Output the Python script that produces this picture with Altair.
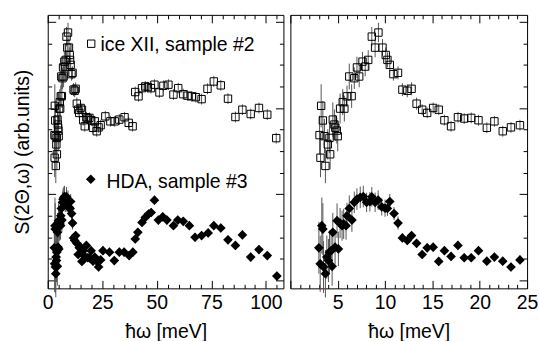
import altair as alt
import pandas as pd

FONT = "Liberation Sans"
FS = 19.5

# ---------------- data ----------------
# ice XII, sample #2 (low-energy part, shown in both panels)
ICE_X = [3.08, 3.18, 3.25, 3.43, 3.60, 3.70, 3.95, 4.13, 4.20, 4.48,
         4.65, 4.75, 4.90, 5.00, 5.25, 5.53, 5.70, 5.98, 6.22, 6.47,
         6.75, 7.03, 7.27, 7.62, 7.90, 8.22, 8.60, 8.95, 9.30, 9.73,
         10.07, 10.25, 10.50, 10.88, 11.37, 11.83, 12.35, 12.80, 13.33, 13.92,
         14.45, 15.08, 15.67, 16.27, 16.97, 17.70, 18.36, 19.10, 19.87, 20.75,
         21.55, 22.43, 23.30, 24.25]
ICE_Y = [6.74, 5.69, 8.10, 7.42, 6.69, 5.31, 6.31, 6.61, 5.85, 7.46,
         7.23, 7.08, 6.95, 6.69, 7.97, 8.27, 7.97, 8.54, 9.46, 8.55,
         9.38, 9.88, 9.46, 10.15, 9.92, 10.23, 11.31, 10.80, 11.50, 10.80,
         10.46, 10.23, 10.00, 9.57, 9.63, 8.85, 8.80, 8.89, 8.20, 7.92,
         7.77, 8.00, 7.92, 7.43, 7.15, 7.57, 7.51, 7.54, 7.43, 7.08,
         7.38, 6.92, 7.10, 7.20]
ICE_E = [0.9, 0.9, 1.0, 0.9, 0.8, 0.8, 0.7, 0.7, 0.7, 0.8,
         0.7, 0.6, 0.6, 0.7, 0.7, 0.6, 0.6, 0.5, 0.6, 0.55,
         0.5, 0.5, 0.5, 0.45, 0.45, 0.45, 0.45, 0.45, 0.45, 0.4,
         0.35, 0.35, 0.3, 0.3, 0.3, 0.3, 0.3, 0.3, 0.28, 0.25,
         0.25, 0.25, 0.25, 0.25, 0.25, 0.25, 0.25, 0.25, 0.25, 0.25,
         0.25, 0.25, 0.25, 0.25]
# ice XII, high-energy part (left panel only)
ICE_HI_X = [26.4, 28.7, 30.7, 32.8, 35.2, 37.1, 38.9, 40.1, 41.6, 43.2,
            44.7, 45.9, 47.3, 48.9, 51.2, 53.0, 55.3, 57.6, 59.8, 62.1,
            64.1, 66.0, 67.9, 70.5, 73.2, 76.1, 79.3, 82.6, 86.0, 89.2,
            93.0, 96.8, 100.6, 104.7]
ICE_HI_Y = [7.61, 7.38, 7.38, 7.46, 7.57, 7.31, 7.15, 8.74, 8.54, 8.92,
            9.00, 8.97, 8.92, 9.08, 8.72, 9.03, 9.08, 8.62, 8.92, 8.64,
            8.57, 8.54, 8.50, 8.41, 8.89, 9.23, 9.05, 8.43, 7.58, 7.92,
            7.72, 8.00, 7.69, 6.60]
ICE_HI_E = [0.25] * len(ICE_HI_X)

# HDA, sample #3 (low-energy part, shown in both panels)
HDA_X = [3.01, 3.15, 3.32, 3.43, 3.50, 3.70, 3.85, 4.02, 4.13, 4.30,
         4.41, 4.48, 4.72, 4.93, 5.07, 5.25, 5.46, 5.63, 5.88, 5.98,
         6.22, 6.50, 6.75, 7.03, 7.38, 7.70, 8.05, 8.40, 8.60, 8.95,
         9.27, 9.65, 10.00, 10.25, 10.50, 10.95, 11.37, 11.83, 12.35, 12.80,
         13.33, 13.92, 14.45, 15.08, 15.67, 16.27, 16.97, 17.70, 18.36, 19.10,
         19.87, 20.75, 21.55, 22.43, 23.30, 24.25]
HDA_Y = [1.51, 0.77, 2.54, 2.38, 0.62, 0.31, 1.08, 0.92, 1.31, 1.38,
         0.65, 2.23, 1.54, 2.77, 1.46, 2.66, 2.54, 2.62, 2.54, 3.00,
         3.34, 2.80, 3.62, 3.77, 3.85, 3.89, 3.62, 3.65, 3.88, 3.62,
         3.72, 3.41, 3.35, 3.34, 3.66, 3.10, 2.66, 1.97, 1.85, 2.08,
         1.72, 1.20, 1.51, 1.54, 0.88, 1.38, 1.11, 1.62, 1.05, 1.05,
         1.38, 0.89, 1.08, 0.89, 0.62, 0.95]
HDA_E = [1.2, 1.3, 1.3, 1.2, 1.2, 1.1, 1.0, 1.0, 1.0, 0.9,
         0.9, 0.9, 0.8, 0.8, 0.8, 0.7, 0.7, 0.7, 0.65, 0.6,
         0.6, 0.55, 0.5, 0.5, 0.5, 0.5, 0.45, 0.45, 0.45, 0.45,
         0.45, 0.4, 0.4, 0.35, 0.35, 0.3, 0.3, 0.2, 0.2, 0.2,
         0.2, 0.2, 0.2, 0.2, 0.2, 0.2, 0.2, 0.2, 0.2, 0.2,
         0.2, 0.2, 0.2, 0.2, 0.2, 0.2]
# HDA, high-energy part (left panel only)
HDA_HI_X = [25.3, 28.3, 30.5, 32.8, 35.0, 37.3, 39.0, 40.1, 41.3, 43.2,
            44.7, 46.2, 47.4, 48.9, 50.7, 52.7, 54.6, 57.6, 59.6, 62.1,
            64.9, 67.5, 70.5, 73.5, 76.1, 79.3, 82.6, 86.0, 89.2, 93.0,
            96.8, 100.6, 105.0]
HDA_HI_Y = [1.38, 1.31, 0.92, 1.31, 1.31, 1.15, 1.31, 1.92, 2.23, 2.69,
            2.92, 3.08, 3.15, 3.72, 2.80, 2.95, 2.80, 2.54, 2.80, 2.74,
            2.54, 2.00, 2.08, 2.20, 2.54, 2.43, 1.88, 1.62, 2.11, 1.08,
            1.43, 1.15, 0.20]
HDA_HI_E = [0.2] * len(HDA_HI_X)

LEGEND_LABELS = ["ice XII, sample #2", "HDA, sample #3"]
X_TITLE = "ħω [meV]"
Y_TITLE = "S(2Θ,ω) (arb.units)"

LEFT_TICKS = list(range(0, 110, 5))
RIGHT_TICKS = list(range(0, 26, 1))
Y_TICKS = list(range(0, 13))


def frame(xs, ys, es):
    return pd.DataFrame({
        "x": xs, "y": ys,
        "lo": [y - e for y, e in zip(ys, es)],
        "hi": [y + e for y, e in zip(ys, es)],
    })


ice_low = frame(ICE_X, ICE_Y, ICE_E)
hda_low = frame(HDA_X, HDA_Y, HDA_E)
ice_all = pd.concat([ice_low, frame(ICE_HI_X, ICE_HI_Y, ICE_HI_E)], ignore_index=True)
hda_all = pd.concat([hda_low, frame(HDA_HI_X, HDA_HI_Y, HDA_HI_E)], ignore_index=True)

YSCALE = alt.Scale(domain=[-0.37, 12.32], nice=False, zero=False)

COMMON = dict(domain=False, grid=False, tickColor="black", tickWidth=1,
              labelFont=FONT, labelFontSize=FS, labelColor="black",
              titleFont=FONT, titleFontSize=FS, titleFontWeight="normal",
              titleColor="black", labelFlush=False, labelOverlap=False)


def xaxis(orient, ticks, major, labelexpr=None, title=None):
    size = {"condition": {"test": f"datum.value % {major} === 0", "value": -8}, "value": -4}
    if labelexpr is not None:
        return alt.Axis(orient=orient, values=ticks, tickSize=size, labels=True,
                        labelExpr=labelexpr, labelPadding=13.5, title=title,
                        titlePadding=6, **COMMON)
    return alt.Axis(orient=orient, values=ticks, tickSize=size, labels=False,
                    title=None, **COMMON)


def yaxis(orient, title=None):
    size = {"condition": {"test": "datum.value % 4 === 0", "value": -8}, "value": -4}
    if title is not None:
        return alt.Axis(orient=orient, values=Y_TICKS, tickSize=size, labels=False,
                        title=title, titlePadding=15, **COMMON)
    return alt.Axis(orient=orient, values=Y_TICKS, tickSize=size, labels=False,
                    title=None, **COMMON)


def panel(ice, hda, xdomain, width, ticks, major, labelexpr, left_axis, legend):
    xs = alt.Scale(domain=xdomain, nice=False, zero=False)
    ice_err = alt.Chart(ice).mark_rule(color="#555555", strokeWidth=1).encode(
        x=alt.X("x:Q", scale=xs, axis=xaxis("bottom", ticks, major, labelexpr, X_TITLE)),
        y=alt.Y("lo:Q", scale=YSCALE,
                axis=yaxis("left", Y_TITLE) if left_axis else None),
        y2="hi:Q",
    )
    ice_pts = alt.Chart(ice).mark_point(shape="square", size=55, filled=False,
                                        color="black", strokeWidth=1, opacity=1).encode(
        x=alt.X("x:Q", scale=xs, axis=xaxis("top", ticks, major)),
        y=alt.Y("y:Q", scale=YSCALE, axis=yaxis("right")),
    )
    hda_err = alt.Chart(hda).mark_rule(color="#555555", strokeWidth=1).encode(
        x=alt.X("x:Q", scale=xs, axis=None),
        y=alt.Y("lo:Q", scale=YSCALE, axis=None),
        y2="hi:Q",
    )
    hda_pts = alt.Chart(hda).mark_point(shape="diamond", size=95, filled=True,
                                        color="black", opacity=1).encode(
        x=alt.X("x:Q", scale=xs, axis=None),
        y=alt.Y("y:Q", scale=YSCALE, axis=None),
    )
    layers = [ice_err, hda_err, hda_pts, ice_pts]
    if legend:
        leg_ice = pd.DataFrame({"t": [LEGEND_LABELS[0]]})
        leg_hda = pd.DataFrame({"t": [LEGEND_LABELS[1]]})
        layers += [
            alt.Chart(leg_ice).mark_point(shape="square", size=55, filled=False,
                                          color="black", strokeWidth=1, opacity=1).encode(
                x=alt.value(43.7), y=alt.value(29)),
            alt.Chart(leg_ice).mark_text(align="left", baseline="alphabetic", font=FONT,
                                         fontSize=FS, color="black").encode(
                text="t:N", x=alt.value(53), y=alt.value(36.3)),
            alt.Chart(leg_hda).mark_point(shape="diamond", size=95, filled=True,
                                          color="black", opacity=1).encode(
                x=alt.value(43.3), y=alt.value(165.3)),
            alt.Chart(leg_hda).mark_text(align="left", baseline="alphabetic", font=FONT,
                                         fontSize=FS, color="black").encode(
                text="t:N", x=alt.value(59), y=alt.value(173.7)),
        ]
    return alt.layer(*layers).properties(width=width, height=275).resolve_axis(
        x="independent", y="independent")


left = panel(ice_all, hda_all, [0, 108], 237, LEFT_TICKS, 25,
             "datum.value % 25 === 0 ? datum.label : ''", True, True)
right = panel(ice_low, hda_low, [0, 25], 238, RIGHT_TICKS, 5,
              "datum.value % 5 === 0 && datum.value > 0 ? datum.label : ''", False, False)

chart = alt.hconcat(left, right, spacing=5).properties(
    padding={"left": 12, "top": 13, "right": 0, "bottom": 0},
    background="white",
).configure_view(stroke="black", strokeWidth=1)

chart.save("out.html", embed_options={"renderer": "svg", "actions": False})
